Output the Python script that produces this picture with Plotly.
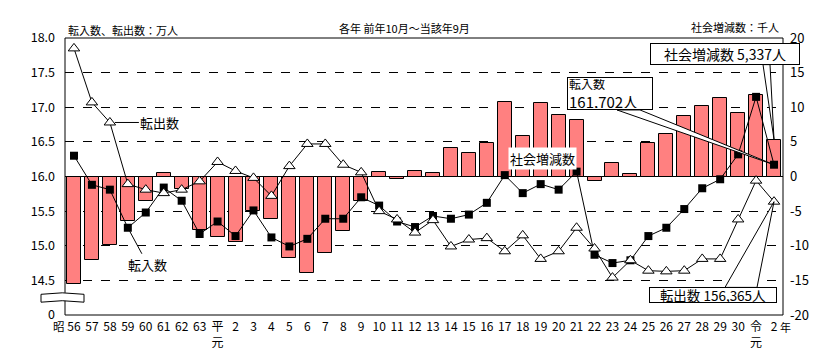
import plotly.graph_objects as go

# ---- data ----
categories = ["56", "57", "58", "59", "60", "61", "62", "63", "平<br>元", "2",
              "3", "4", "5", "6", "7", "8", "9", "10", "11", "12",
              "13", "14", "15", "16", "17", "18", "19", "20", "21", "22",
              "23", "24", "25", "26", "27", "28", "29", "30", "令<br>元", "2"]

# 社会増減数 (千人)
social = [-15.5, -12.0, -9.9, -6.4, -3.5, 0.5, -1.8, -7.7, -8.8, -9.5,
          -5.0, -6.2, -11.7, -13.9, -11.0, -7.9, -3.6, 0.7, -0.3, 0.8,
          0.5, 4.1, 3.4, 4.9, 10.8, 5.9, 10.6, 8.9, 8.1, -0.6,
          1.9, 0.3, 4.8, 6.1, 8.8, 10.2, 11.3, 9.2, 11.8, 5.337]

# 転入数 (万人)
inflow = [16.30, 15.88, 15.81, 15.26, 15.48, 15.84, 15.65, 15.17, 15.35, 15.14,
          15.51, 15.12, 14.99, 15.10, 15.39, 15.39, 15.70, 15.58, 15.35, 15.27,
          15.43, 15.39, 15.45, 15.62, 16.02, 15.76, 15.89, 15.81, 16.07, 14.87,
          14.75, 14.79, 15.14, 15.26, 15.53, 15.83, 15.96, 16.32, 17.15, 16.1702]

# 転出数 (万人)
outflow = [17.85, 17.07, 16.78, 15.89, 15.81, 15.76, 15.81, 15.93, 16.21, 16.08,
           15.98, 15.72, 16.15, 16.47, 16.47, 16.17, 16.06, 15.50, 15.38, 15.19,
           15.37, 14.99, 15.09, 15.11, 14.92, 15.15, 14.81, 14.92, 15.26, 14.96,
           14.54, 14.79, 14.64, 14.63, 14.64, 14.81, 14.81, 15.38, 15.94, 15.6365]

left_ticks = [14.0, 14.5, 15.0, 15.5, 16.0, 16.5, 17.0, 17.5, 18.0]
left_ticktext = ["0", "14.5", "15.0", "15.5", "16.0", "16.5", "17.0", "17.5", "18.0"]
right_ticks = [-20, -15, -10, -5, 0, 5, 10, 15, 20]
right_ticktext = ["-20", "-15", "-10", "-5", "0", "5", "10", "15", "20"]

FONT = "Noto Sans CJK JP, sans-serif"
W, H = 840, 362
L, R, T, B = 65, 783, 38, 319
LEFT_RANGE = [14, 18]
RIGHT_RANGE = [-20, 20]
XRANGE = [-0.5, len(categories) - 0.5]

xs = list(range(len(categories)))


def px(x):
    return (x - L) / (R - L)


def py(y):
    return (B - y) / (B - T)


def dx(i):
    return (i - XRANGE[0]) / (XRANGE[1] - XRANGE[0])


def dy_left(v):
    return (v - LEFT_RANGE[0]) / (LEFT_RANGE[1] - LEFT_RANGE[0])


def dy_right(v):
    return (v - RIGHT_RANGE[0]) / (RIGHT_RANGE[1] - RIGHT_RANGE[0])


fig = go.Figure()

fig.add_trace(go.Bar(
    x=xs, y=social, yaxis="y", width=0.78,
    marker=dict(color="#FF8080", line=dict(color="black", width=1)),
    name="社会増減数", showlegend=False,
))
fig.add_trace(go.Scatter(
    x=xs, y=inflow, yaxis="y2", mode="lines+markers",
    line=dict(color="black", width=1),
    marker=dict(symbol="square", size=8, color="black"),
    name="転入数", showlegend=False,
))
fig.add_trace(go.Scatter(
    x=xs, y=outflow, yaxis="y2", mode="lines+markers",
    line=dict(color="black", width=1),
    marker=dict(symbol="triangle-up", size=10, color="white",
                line=dict(color="black", width=1)),
    name="転出数", showlegend=False,
))

last = len(categories) - 1

shapes = [
    # plot frame
    dict(type="rect", xref="paper", yref="paper", x0=0, y0=0, x1=1, y1=1,
         line=dict(color="black", width=1), layer="above"),
    # axis break symbol
    dict(type="path", xref="paper", yref="paper",
         path=(f"M {px(41)},{py(298)} Q {px(62)},{py(295)} {px(84)},{py(298)} "
               f"L {px(84)},{py(306)} Q {px(62)},{py(303)} {px(41)},{py(306)} Z"),
         fillcolor="white", line=dict(color="black", width=1), layer="above"),
    # callout wedge: 転入数
    dict(type="path", xref="paper", yref="paper",
         path=(f"M {px(617)},{py(111)} L {dx(last)},{dy_left(inflow[last])} "
               f"L {px(640)},{py(111)} Z"),
         fillcolor="white", line=dict(color="black", width=1), layer="above"),
    # callout wedge: 社会増減数
    dict(type="path", xref="paper", yref="paper",
         path=(f"M {px(763)},{py(65)} L {dx(last)},{dy_right(social[last])} "
               f"L {px(770)},{py(65)} Z"),
         fillcolor="white", line=dict(color="black", width=1), layer="above"),
    # callout wedge: 転出数
    dict(type="path", xref="paper", yref="paper",
         path=(f"M {px(725)},{py(291)} L {dx(last)},{dy_left(outflow[last])} "
               f"L {px(757)},{py(291)} Z"),
         fillcolor="white", line=dict(color="black", width=1), layer="above"),
]

annotations = [
    dict(text="転入数、転出数：万人", xref="paper", yref="paper",
         x=px(66), y=py(30), xanchor="left", yanchor="middle",
         showarrow=False, font=dict(size=11, family=FONT, color="black")),
    dict(text="各年 前年10月～当該年9月", xref="paper", yref="paper",
         x=px(404), y=py(28), xanchor="center", yanchor="middle",
         showarrow=False, font=dict(size=11, family=FONT, color="black")),
    dict(text="社会増減数：千人", xref="paper", yref="paper",
         x=px(781), y=py(27), xanchor="right", yanchor="middle",
         showarrow=False, font=dict(size=11, family=FONT, color="black")),
    dict(text="昭", xref="paper", yref="paper",
         x=px(66), y=py(330), xanchor="right", yanchor="middle",
         showarrow=False, borderpad=0, font=dict(size=11.5, family=FONT, color="black")),
    dict(text="年", xref="paper", yref="paper",
         x=px(779), y=py(331), xanchor="left", yanchor="middle",
         showarrow=False, borderpad=0, font=dict(size=11, family=FONT, color="black")),
    # 転出数 label
    dict(text="転出数", x=2, y=outflow[2], xref="x", yref="y2",
         ax=50, ay=0, showarrow=True, arrowhead=0, arrowwidth=1,
         arrowcolor="black", standoff=5,
         font=dict(size=13, family=FONT, color="black")),
    # 転入数 label
    dict(text="転入数", x=3, y=inflow[3], xref="x", yref="y2",
         ax=20, ay=37, showarrow=True, arrowhead=0, arrowwidth=1,
         arrowcolor="black", standoff=4,
         font=dict(size=13, family=FONT, color="black")),
    # 社会増減数 label
    dict(text="社会増減数", xref="paper", yref="paper",
         x=px(542), y=py(160), xanchor="center", yanchor="middle",
         showarrow=False, bgcolor="white",
         font=dict(size=13, family=FONT, color="black")),
    # callout boxes
    dict(text="<span style='font-size:12px'>転入数</span><br>161,702人",
         xref="paper", yref="paper", x=px(610), y=py(94.5),
         xanchor="center", yanchor="middle", align="left",
         width=82, height=29, borderpad=1, showarrow=False,
         bgcolor="white", bordercolor="black", borderwidth=1,
         font=dict(size=15, family=FONT, color="black")),
    dict(text="社会増減数 5,337人",
         xref="paper", yref="paper", x=px(725), y=py(54),
         xanchor="center", yanchor="middle",
         width=146, height=18, borderpad=1, showarrow=False,
         bgcolor="white", bordercolor="black", borderwidth=1,
         font=dict(size=14, family=FONT, color="black")),
    dict(text="転出数 156,365人",
         xref="paper", yref="paper", x=px(713), y=py(299),
         xanchor="center", yanchor="middle",
         width=126, height=14, borderpad=0, showarrow=False,
         bgcolor="white", bordercolor="black", borderwidth=1,
         font=dict(size=13.5, family=FONT, color="black")),
]

fig.update_layout(
    width=W, height=H,
    margin=dict(l=L, r=W - R, t=T, b=H - B, pad=0),
    paper_bgcolor="white", plot_bgcolor="white",
    font=dict(family=FONT, size=12, color="black"),
    bargap=0,
    xaxis=dict(
        range=XRANGE, tickmode="array", tickvals=xs, ticktext=categories,
        showgrid=False, zeroline=False, showline=False, ticks="",
        tickangle=0, ticklabelstandoff=3, tickfont=dict(size=12, family=FONT),
    ),
    yaxis=dict(
        side="right", range=RIGHT_RANGE, tickmode="array",
        tickvals=right_ticks, ticktext=right_ticktext,
        showgrid=True, gridcolor="black", gridwidth=1, griddash="dash",
        zeroline=True, zerolinecolor="black", zerolinewidth=1,
        showline=False, ticks="", ticklabelstandoff=6,
        tickfont=dict(size=13, family=FONT),
    ),
    yaxis2=dict(
        side="left", overlaying="y", range=LEFT_RANGE, tickmode="array",
        tickvals=left_ticks, ticktext=left_ticktext,
        showgrid=False, zeroline=False, showline=False, ticks="",
        ticklabelstandoff=9, tickfont=dict(size=12.5, family=FONT),
    ),
    shapes=shapes,
    annotations=annotations,
    showlegend=False,
)

fig.write_html(
    "out.html",
    config={"displayModeBar": False},
    post_script="document.body.style.margin='0';document.body.style.overflow='hidden';",
)
